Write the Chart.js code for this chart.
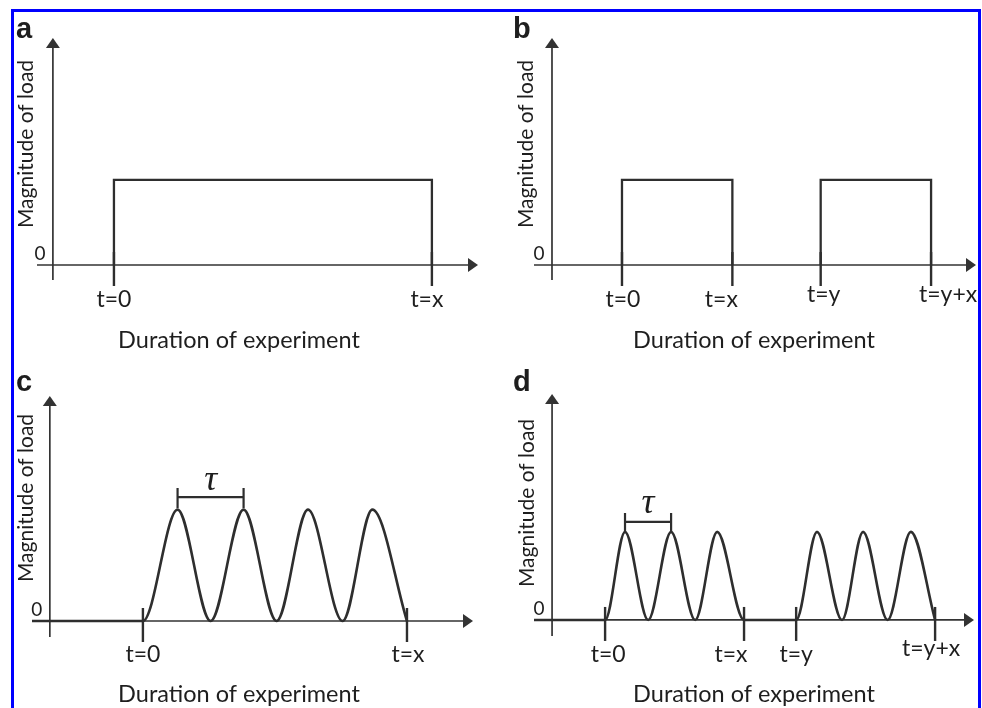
<!DOCTYPE html>
<html>
<head>
<meta charset="utf-8">
<script src="https://cdn.jsdelivr.net/npm/chart.js@4.4.1/dist/chart.umd.min.js"></script>
<style>
  html, body { margin: 0; padding: 0; background: #ffffff; width: 982px; height: 708px; overflow: hidden; }
  #frame { position: absolute; left: 11px; top: 9px; width: 964px; height: 740px; border: 3px solid #0000ff; box-sizing: content-box; }
  canvas { position: absolute; }
</style>
</head>
<body>
<div id="frame"></div>
<canvas id="pa" width="491" height="354" style="left:0px;top:0px"></canvas>
<canvas id="pb" width="491" height="354" style="left:491px;top:0px"></canvas>
<canvas id="pc" width="491" height="354" style="left:0px;top:354px"></canvas>
<canvas id="pd" width="491" height="354" style="left:491px;top:354px"></canvas>
<script>
// ---------------- data (time in arbitrary units, load in arbitrary units) ----------------
// Panel a: one sustained load from t=0 to t=x
const aTickValues = [0, 10];
const aTickLabels = ['t=0', 't=x'];
const aTime = [0, 0, 10, 10];
const aLoad = [0, 3.75, 3.75, 0];

// Panel b: two sustained loads, t=0..t=x and t=y..t=y+x
const bTickValues = [0, 10, 18, 28];
const bTickLabels = ['t=0', 't=x', 't=y', 't=y+x'];
const bTime = [0, 0, 10, 10, 18, 18, 28, 28];
const bLoad = [0, 3.75, 3.75, 0, 0, 3.75, 3.75, 0];

// Panel c: cyclic load (4 cycles) from t=0 to t=x
const cTickValues = [0, 8];
const cTickLabels = ['t=0', 't=x'];
const cTime = [-3.36, 0, 1.05, 2.05, 3.05, 4.05, 5.0, 6.05, 6.95, 8.0];
const cLoad = [0, 0, 4.95, 0, 4.95, 0, 4.95, 0, 4.95, 0];
const cPeriodMarks = [1.05, 3.05];

// Panel d: two cyclic bouts (3 cycles each)
const dTickValues = [0, 6, 8.25, 14.25];
const dTickLabels = ['t=0', 't=x', 't=y', 't=y+x'];
const dTime = [-3.07, 0, 0.86, 1.86, 2.85, 3.89, 4.84, 6.0, 8.25, 9.15, 10.23, 11.14, 12.2, 13.2, 14.25];
const dLoad = [0, 0, 3.9, 0, 3.9, 0, 3.9, 0, 0, 3.9, 0, 3.9, 0, 3.9, 0];
const dPeriodMarks = [0.86, 2.85];

const yAxisTitle = 'Magnitude of load';
const xAxisTitle = 'Duration of experiment';
const zeroLabel = '0';
const periodSymbol = 'τ';

// ---------------- styling ----------------
const LINE = '#2e2e2e';
const AXIS = '#333333';
const TEXT = '#1e1e1e';
const SANS = 'Lato, "Open Sans", sans-serif';

function makeSchematic(cfg) {
  return {
    id: 'schematic',
    beforeDatasetsDraw(chart) {
      const { ctx, chartArea: ca, scales: { x, y } } = chart;
      const ox = x.getPixelForValue(cfg.originX);
      const oy = y.getPixelForValue(0);
      ctx.save();
      ctx.strokeStyle = AXIS; ctx.fillStyle = AXIS; ctx.lineWidth = 1.7;
      // y axis with arrow
      ctx.beginPath(); ctx.moveTo(ox, ca.bottom); ctx.lineTo(ox, ca.top + 6); ctx.stroke();
      ctx.beginPath(); ctx.moveTo(ox, ca.top); ctx.lineTo(ox - 7, ca.top + 10); ctx.lineTo(ox + 7, ca.top + 10); ctx.closePath(); ctx.fill();
      // x axis with arrow
      ctx.beginPath(); ctx.moveTo(ca.left, oy); ctx.lineTo(ca.right - 6, oy); ctx.stroke();
      ctx.beginPath(); ctx.moveTo(ca.right, oy); ctx.lineTo(ca.right - 10, oy - 7); ctx.lineTo(ca.right - 10, oy + 7); ctx.closePath(); ctx.fill();
      // tick marks
      ctx.lineWidth = 2.4; ctx.strokeStyle = LINE;
      cfg.tickValues.forEach(v => {
        const px = x.getPixelForValue(v);
        ctx.beginPath(); ctx.moveTo(px, oy - 13); ctx.lineTo(px, oy + 21); ctx.stroke();
      });
      ctx.restore();
    },
    afterDatasetsDraw(chart) {
      const { ctx, scales: { x, y } } = chart;
      const ox = x.getPixelForValue(cfg.originX);
      const oy = y.getPixelForValue(0);
      ctx.save();
      ctx.fillStyle = TEXT;
      ctx.textBaseline = 'alphabetic';
      // panel letter
      ctx.font = 'bold 29px "Liberation Sans", Arial, sans-serif';
      ctx.textAlign = 'left';
      ctx.fillText(cfg.letter, cfg.letterPos[0], cfg.letterPos[1]);
      // tick labels
      ctx.font = '23px ' + SANS;
      ctx.textAlign = 'center';
      cfg.tickValues.forEach((v, i) => {
        ctx.fillText(cfg.tickLabels[i], x.getPixelForValue(v) + cfg.labelDx[i], oy + cfg.labelDy[i]);
      });
      // zero label
      ctx.font = '19px ' + SANS;
      ctx.fillText(zeroLabel, ox - 13, oy - 5);
      // x axis title
      ctx.font = '23.5px ' + SANS;
      ctx.fillText(xAxisTitle, cfg.xTitlePos[0], cfg.xTitlePos[1]);
      // y axis title (rotated)
      ctx.save();
      ctx.translate(cfg.yTitlePos[0], cfg.yTitlePos[1]);
      ctx.rotate(-Math.PI / 2);
      ctx.font = '21px ' + SANS;
      ctx.fillText(yAxisTitle, 0, 0);
      ctx.restore();
      // period bracket
      if (cfg.period) {
        const x1 = x.getPixelForValue(cfg.period[0]);
        const x2 = x.getPixelForValue(cfg.period[1]);
        const by = y.getPixelForValue(cfg.bracketY);
        ctx.strokeStyle = LINE; ctx.lineWidth = 2.2;
        ctx.beginPath();
        ctx.moveTo(x1, by); ctx.lineTo(x2, by);
        ctx.moveTo(x1, by - 9); ctx.lineTo(x1, by + 11);
        ctx.moveTo(x2, by - 9); ctx.lineTo(x2, by + 11);
        ctx.stroke();
        ctx.font = 'italic 36px "Liberation Serif", "DejaVu Serif", serif';
        ctx.fillText(periodSymbol, (x1 + x2) / 2, by - cfg.symbolGap);
      }
      ctx.restore();
    }
  };
}

function makeChart(id, cfg) {
  const hideBaseline = cfg.hideBaseline;
  return new Chart(document.getElementById(id), {
    type: 'line',
    data: {
      datasets: [{
        data: cfg.time.map((t, i) => ({ x: t, y: cfg.load[i] })),
        borderColor: LINE,
        borderWidth: cfg.lineWidth,
        pointRadius: 0,
        fill: false,
        tension: 0,
        cubicInterpolationMode: cfg.smooth ? 'monotone' : 'default',
        borderJoinStyle: 'miter',
        clip: false,
        segment: {
          borderColor: c => (hideBaseline && c.p0.parsed.y === 0 && c.p1.parsed.y === 0) ? 'rgba(0,0,0,0)' : undefined
        }
      }]
    },
    options: {
      responsive: false,
      animation: false,
      events: [],
      layout: { padding: cfg.padding },
      plugins: { legend: { display: false }, tooltip: { enabled: false }, title: { display: false } },
      scales: {
        x: { type: 'linear', display: false, min: cfg.xMin, max: cfg.xMax },
        y: { type: 'linear', display: false, min: cfg.yMin, max: cfg.yMax }
      }
    },
    plugins: [makeSchematic(cfg)]
  });
}

makeChart('pa', {
  time: aTime, load: aLoad, tickValues: aTickValues, tickLabels: aTickLabels,
  smooth: false, lineWidth: 2.3,
  padding: { left: 37, right: 13, top: 38, bottom: 74 },
  xMin: -2.42, xMax: 11.45, yMin: -0.66, yMax: 10, originX: -1.92,
  letter: 'a', letterPos: [16, 38], yTitlePos: [33, 144], xTitlePos: [239, 348],
  labelDx: [0, -5], labelDy: [42, 42]
});
makeChart('pb', {
  time: bTime, load: bLoad, tickValues: bTickValues, tickLabels: bTickLabels,
  smooth: false, lineWidth: 2.3, hideBaseline: true,
  padding: { left: 43, right: 6, top: 38, bottom: 74 },
  xMin: -7.97, xMax: 32.07, yMin: -0.66, yMax: 10, originX: -6.34,
  letter: 'b', letterPos: [22, 38], yTitlePos: [42, 144], xTitlePos: [263, 348],
  labelDx: [1, -11, 3, 17], labelDy: [42, 42, 37, 37]
});
makeChart('pc', {
  time: cTime, load: cLoad, tickValues: cTickValues, tickLabels: cTickLabels,
  smooth: true, lineWidth: 2.6,
  padding: { left: 32, right: 18, top: 42, bottom: 71 },
  xMin: -3.36, xMax: 10.0, yMin: -0.71, yMax: 10, originX: -2.82,
  letter: 'c', letterPos: [16, 37], yTitlePos: [33, 144], xTitlePos: [239, 348],
  labelDx: [0, 1], labelDy: [41, 41],
  period: cPeriodMarks, bracketY: 5.51, symbolGap: 7
});
makeChart('pd', {
  time: dTime, load: dLoad, tickValues: dTickValues, tickLabels: dTickLabels,
  smooth: true, lineWidth: 2.6,
  padding: { left: 43, right: 8, top: 40, bottom: 72 },
  xMin: -3.07, xMax: 15.93, yMin: -0.71, yMax: 10, originX: -2.29,
  letter: 'd', letterPos: [22, 37], yTitlePos: [43, 149], xTitlePos: [263, 348],
  labelDx: [3, -13, 0, -4], labelDy: [42, 42, 42, 36],
  period: dPeriodMarks, bracketY: 4.34, symbolGap: 9
});
</script>
</body>
</html>
